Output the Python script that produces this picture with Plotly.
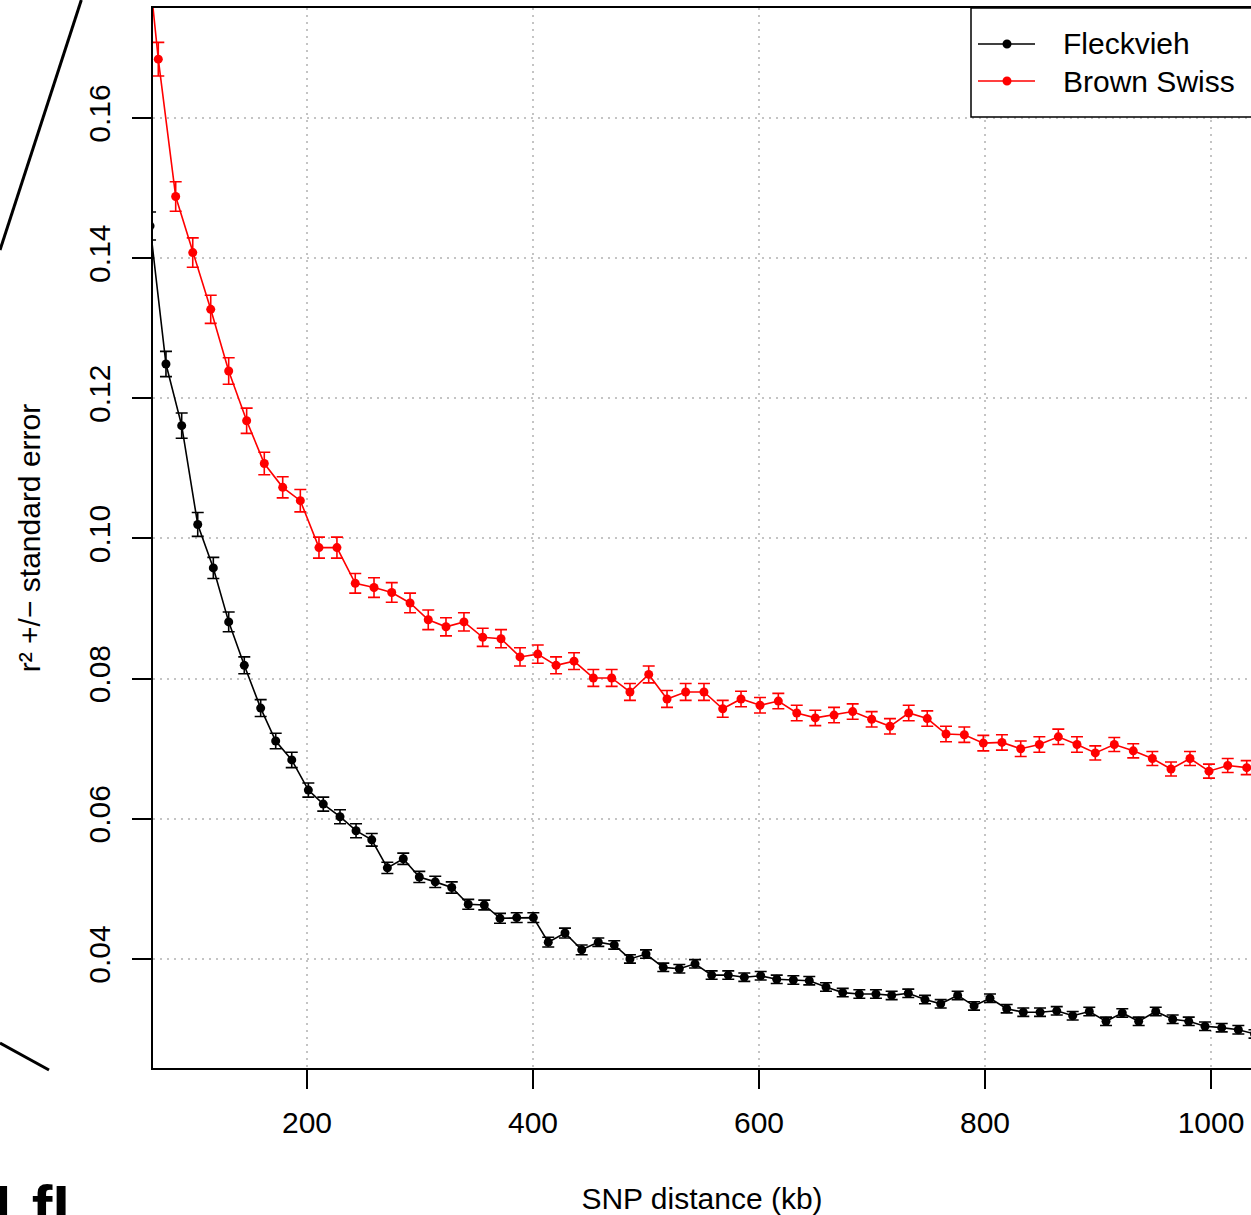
import plotly.graph_objects as go

# SNP distance (kb) and mean r^2 with standard errors, per breed
fleckvieh_kb = [61.1, 75.2, 89.1, 103.3, 117.1, 130.7, 144.5, 159.0, 172.3, 186.5,
                201.2, 214.4, 229.2, 243.4, 257.3, 271.1, 285.2, 299.4, 313.5, 328.1,
                342.7, 356.9, 370.8, 385.6, 400.3, 413.5, 428.3, 443.1, 457.8, 471.9,
                485.8, 500.0, 515.3, 529.5, 543.4, 558.1, 572.8, 587.0, 601.5, 615.7,
                630.4, 644.5, 659.3, 674.1, 688.8, 703.5, 717.4, 732.1, 746.9, 760.8,
                775.8, 790.3, 804.4, 819.2, 833.9, 848.7, 863.5, 877.6, 892.3, 907.1,
                921.5, 936.0, 951.1, 966.1, 980.3, 994.7, 1009.5, 1024.2, 1038.5]
fleckvieh_r2 = [0.1446, 0.1249, 0.1161, 0.1020, 0.0958, 0.0881, 0.0819, 0.0758, 0.0711, 0.0684,
                0.0641, 0.0621, 0.0603, 0.0583, 0.0570, 0.0530, 0.0543, 0.0517, 0.0510, 0.0502,
                0.0478, 0.0477, 0.0458, 0.0459, 0.0459, 0.0424, 0.0437, 0.0413, 0.0424, 0.0420,
                0.0400, 0.0407, 0.0388, 0.0386, 0.0393, 0.0377, 0.0377, 0.0374, 0.0376, 0.0371,
                0.0370, 0.0369, 0.0360, 0.0352, 0.0350, 0.0350, 0.0348, 0.0351, 0.0342, 0.0336,
                0.0348, 0.0333, 0.0344, 0.0329, 0.0324, 0.0324, 0.0326, 0.0319, 0.0325, 0.0311,
                0.0323, 0.0311, 0.0325, 0.0314, 0.0311, 0.0304, 0.0302, 0.0299, 0.0293]
fleckvieh_se = [0.0020, 0.0018, 0.0018, 0.0017, 0.0015, 0.0014, 0.0012, 0.0012, 0.0011, 0.0011,
                0.0010, 0.0010, 0.0010, 0.0010, 0.0009, 0.0008, 0.0008, 0.0008, 0.0008, 0.0008,
                0.0007, 0.0007, 0.0007, 0.0007, 0.0007, 0.0007, 0.0007, 0.0007, 0.0006, 0.0006,
                0.0006, 0.0006, 0.0006, 0.0006, 0.0006, 0.0006, 0.0006, 0.0006, 0.0006, 0.0006,
                0.0006, 0.0006, 0.0006, 0.0006, 0.0006, 0.0006, 0.0006, 0.0006, 0.0006, 0.0006,
                0.0006, 0.0006, 0.0006, 0.0006, 0.0006, 0.0006, 0.0006, 0.0006, 0.0006, 0.0006,
                0.0006, 0.0006, 0.0006, 0.0006, 0.0006, 0.0006, 0.0006, 0.0006, 0.0006]

brown_swiss_kb = [52.1, 68.4, 83.8, 98.9, 114.8, 130.7, 146.6, 162.2, 178.5, 194.1,
                  210.6, 226.5, 242.7, 259.3, 275.0, 291.2, 307.3, 323.0, 338.9, 355.5,
                  371.7, 388.5, 404.2, 420.4, 436.3, 453.4, 469.6, 485.8, 502.4, 518.6,
                  535.1, 551.3, 567.9, 584.1, 600.9, 617.1, 633.4, 649.8, 666.4, 682.9,
                  699.7, 715.9, 732.5, 748.9, 765.5, 781.7, 798.5, 815.0, 831.6, 848.1,
                  864.9, 881.4, 897.6, 914.4, 931.2, 948.1, 964.6, 981.4, 998.2, 1014.8,
                  1031.6]
brown_swiss_r2 = [0.1940, 0.1684, 0.1488, 0.1408, 0.1327, 0.1239, 0.1168, 0.1107, 0.1073, 0.1054,
                  0.0987, 0.0987, 0.0936, 0.0930, 0.0923, 0.0908, 0.0884, 0.0874, 0.0881, 0.0859,
                  0.0857, 0.0831, 0.0835, 0.0819, 0.0825, 0.0801, 0.0801, 0.0781, 0.0806, 0.0771,
                  0.0781, 0.0781, 0.0757, 0.0771, 0.0762, 0.0768, 0.0751, 0.0744, 0.0748, 0.0753,
                  0.0742, 0.0732, 0.0751, 0.0743, 0.0721, 0.0720, 0.0708, 0.0709, 0.0700, 0.0706,
                  0.0717, 0.0706, 0.0694, 0.0706, 0.0697, 0.0686, 0.0671, 0.0686, 0.0668, 0.0676,
                  0.0673]
brown_swiss_se = [0.0026, 0.0024, 0.0021, 0.0021, 0.0020, 0.0019, 0.0018, 0.0016, 0.0015, 0.0016,
                  0.0015, 0.0015, 0.0014, 0.0014, 0.0014, 0.0014, 0.0014, 0.0013, 0.0013, 0.0013,
                  0.0013, 0.0013, 0.0013, 0.0012, 0.0012, 0.0012, 0.0012, 0.0012, 0.0012, 0.0012,
                  0.0012, 0.0012, 0.0012, 0.0011, 0.0011, 0.0011, 0.0011, 0.0011, 0.0011, 0.0011,
                  0.0011, 0.0011, 0.0011, 0.0011, 0.0011, 0.0011, 0.0011, 0.0011, 0.0011, 0.0011,
                  0.0011, 0.0011, 0.0010, 0.0010, 0.0010, 0.0010, 0.0010, 0.0010, 0.0010, 0.0010,
                  0.0010]

breeds = ["Fleckvieh", "Brown Swiss"]
colors = ["#000000", "#ff0000"]
x_ticks = [200, 400, 600, 800, 1000]
y_ticks = [0.04, 0.06, 0.08, 0.10, 0.12, 0.14, 0.16]

FONT = "Liberation Sans, Arial, sans-serif"
W, H = 1251, 1215
L, R, T, B = 153, 0, 8, 147


def paper_x(px):
    return (px - L) / (W - L - R)


def paper_y(py):
    return (H - B - py) / (H - T - B)


def series(name, x, y, se, color):
    return go.Scatter(
        x=x, y=y, name=name, mode="lines+markers",
        line=dict(color=color, width=1.6),
        marker=dict(color=color, size=9),
        error_y=dict(type="data", array=se, visible=True,
                     color=color, thickness=1.6, width=6),
        cliponaxis=True, showlegend=False,
    )


fig = go.Figure()
fig.add_trace(series(breeds[0], fleckvieh_kb, fleckvieh_r2, fleckvieh_se, colors[0]))
fig.add_trace(series(breeds[1], brown_swiss_kb, brown_swiss_r2, brown_swiss_se, colors[1]))

axis_common = dict(
    showline=True, linecolor="black", linewidth=1.5, mirror=True,
    ticks="outside", ticklen=19, tickwidth=1.5, tickcolor="black",
    showgrid=True, gridcolor="#c4c4c4", gridwidth=1.5, griddash="2px,5px",
    zeroline=False, tickfont=dict(family=FONT, size=30, color="black"),
    title_font=dict(family=FONT, size=30, color="black"),
)

fig.update_xaxes(
    range=[63.72, 1035.4], tickvals=x_ticks,
    ticklabelstandoff=8,
    title=dict(text="SNP distance (kb)", standoff=56),
    **axis_common,
)
fig.update_yaxes(
    range=[0.02444, 0.17570], tickvals=y_ticks, tickformat=".2f",
    tickangle=-90, ticklabelstandoff=10,
    title=dict(text="r² +/− standard error", standoff=34),
    **axis_common,
)

# legend box in the top-right corner (R-style: line sample, dot, label)
fig.add_shape(type="rect", xref="paper", yref="paper",
              x0=paper_x(971), y0=paper_y(117), x1=paper_x(1252), y1=paper_y(8),
              fillcolor="white", line=dict(color="black", width=1.5), layer="above")
for name, color, row_y in zip(breeds, colors, [44, 81]):
    fig.add_shape(type="line", xref="paper", yref="paper",
                  x0=paper_x(978), y0=paper_y(row_y), x1=paper_x(1035), y1=paper_y(row_y),
                  line=dict(color=color, width=1.5), layer="above")
    fig.add_shape(type="circle", xref="paper", yref="paper",
                  x0=paper_x(1002.5), y0=paper_y(row_y + 4.5),
                  x1=paper_x(1011.5), y1=paper_y(row_y - 4.5),
                  fillcolor=color, line=dict(color=color, width=0), layer="above")
    fig.add_annotation(text=name, xref="paper", yref="paper",
                       x=paper_x(1061), y=paper_y(row_y), xanchor="left", yanchor="middle",
                       showarrow=False, font=dict(family=FONT, size=30, color="black"))

# slide decoration: diagonal strokes and logo at the left edge
fig.add_shape(type="line", xref="paper", yref="paper",
              x0=paper_x(81.3), y0=paper_y(0), x1=paper_x(0), y1=paper_y(250),
              line=dict(color="black", width=3))
fig.add_shape(type="line", xref="paper", yref="paper",
              x0=paper_x(0), y0=paper_y(1043), x1=paper_x(49), y1=paper_y(1070),
              line=dict(color="black", width=3))
fig.add_annotation(text="<b>LfL</b>", xref="paper", yref="paper",
                   x=paper_x(-8), y=paper_y(1170), xanchor="left", yanchor="top",
                   showarrow=False, font=dict(family=FONT, size=62, color="black"))

fig.update_layout(
    width=W, height=H,
    margin=dict(l=L, r=R, t=T, b=B, autoexpand=False),
    paper_bgcolor="white", plot_bgcolor="white",
    font=dict(family=FONT, size=30, color="black"),
    showlegend=False,
)

fig.write_html("out.html")
